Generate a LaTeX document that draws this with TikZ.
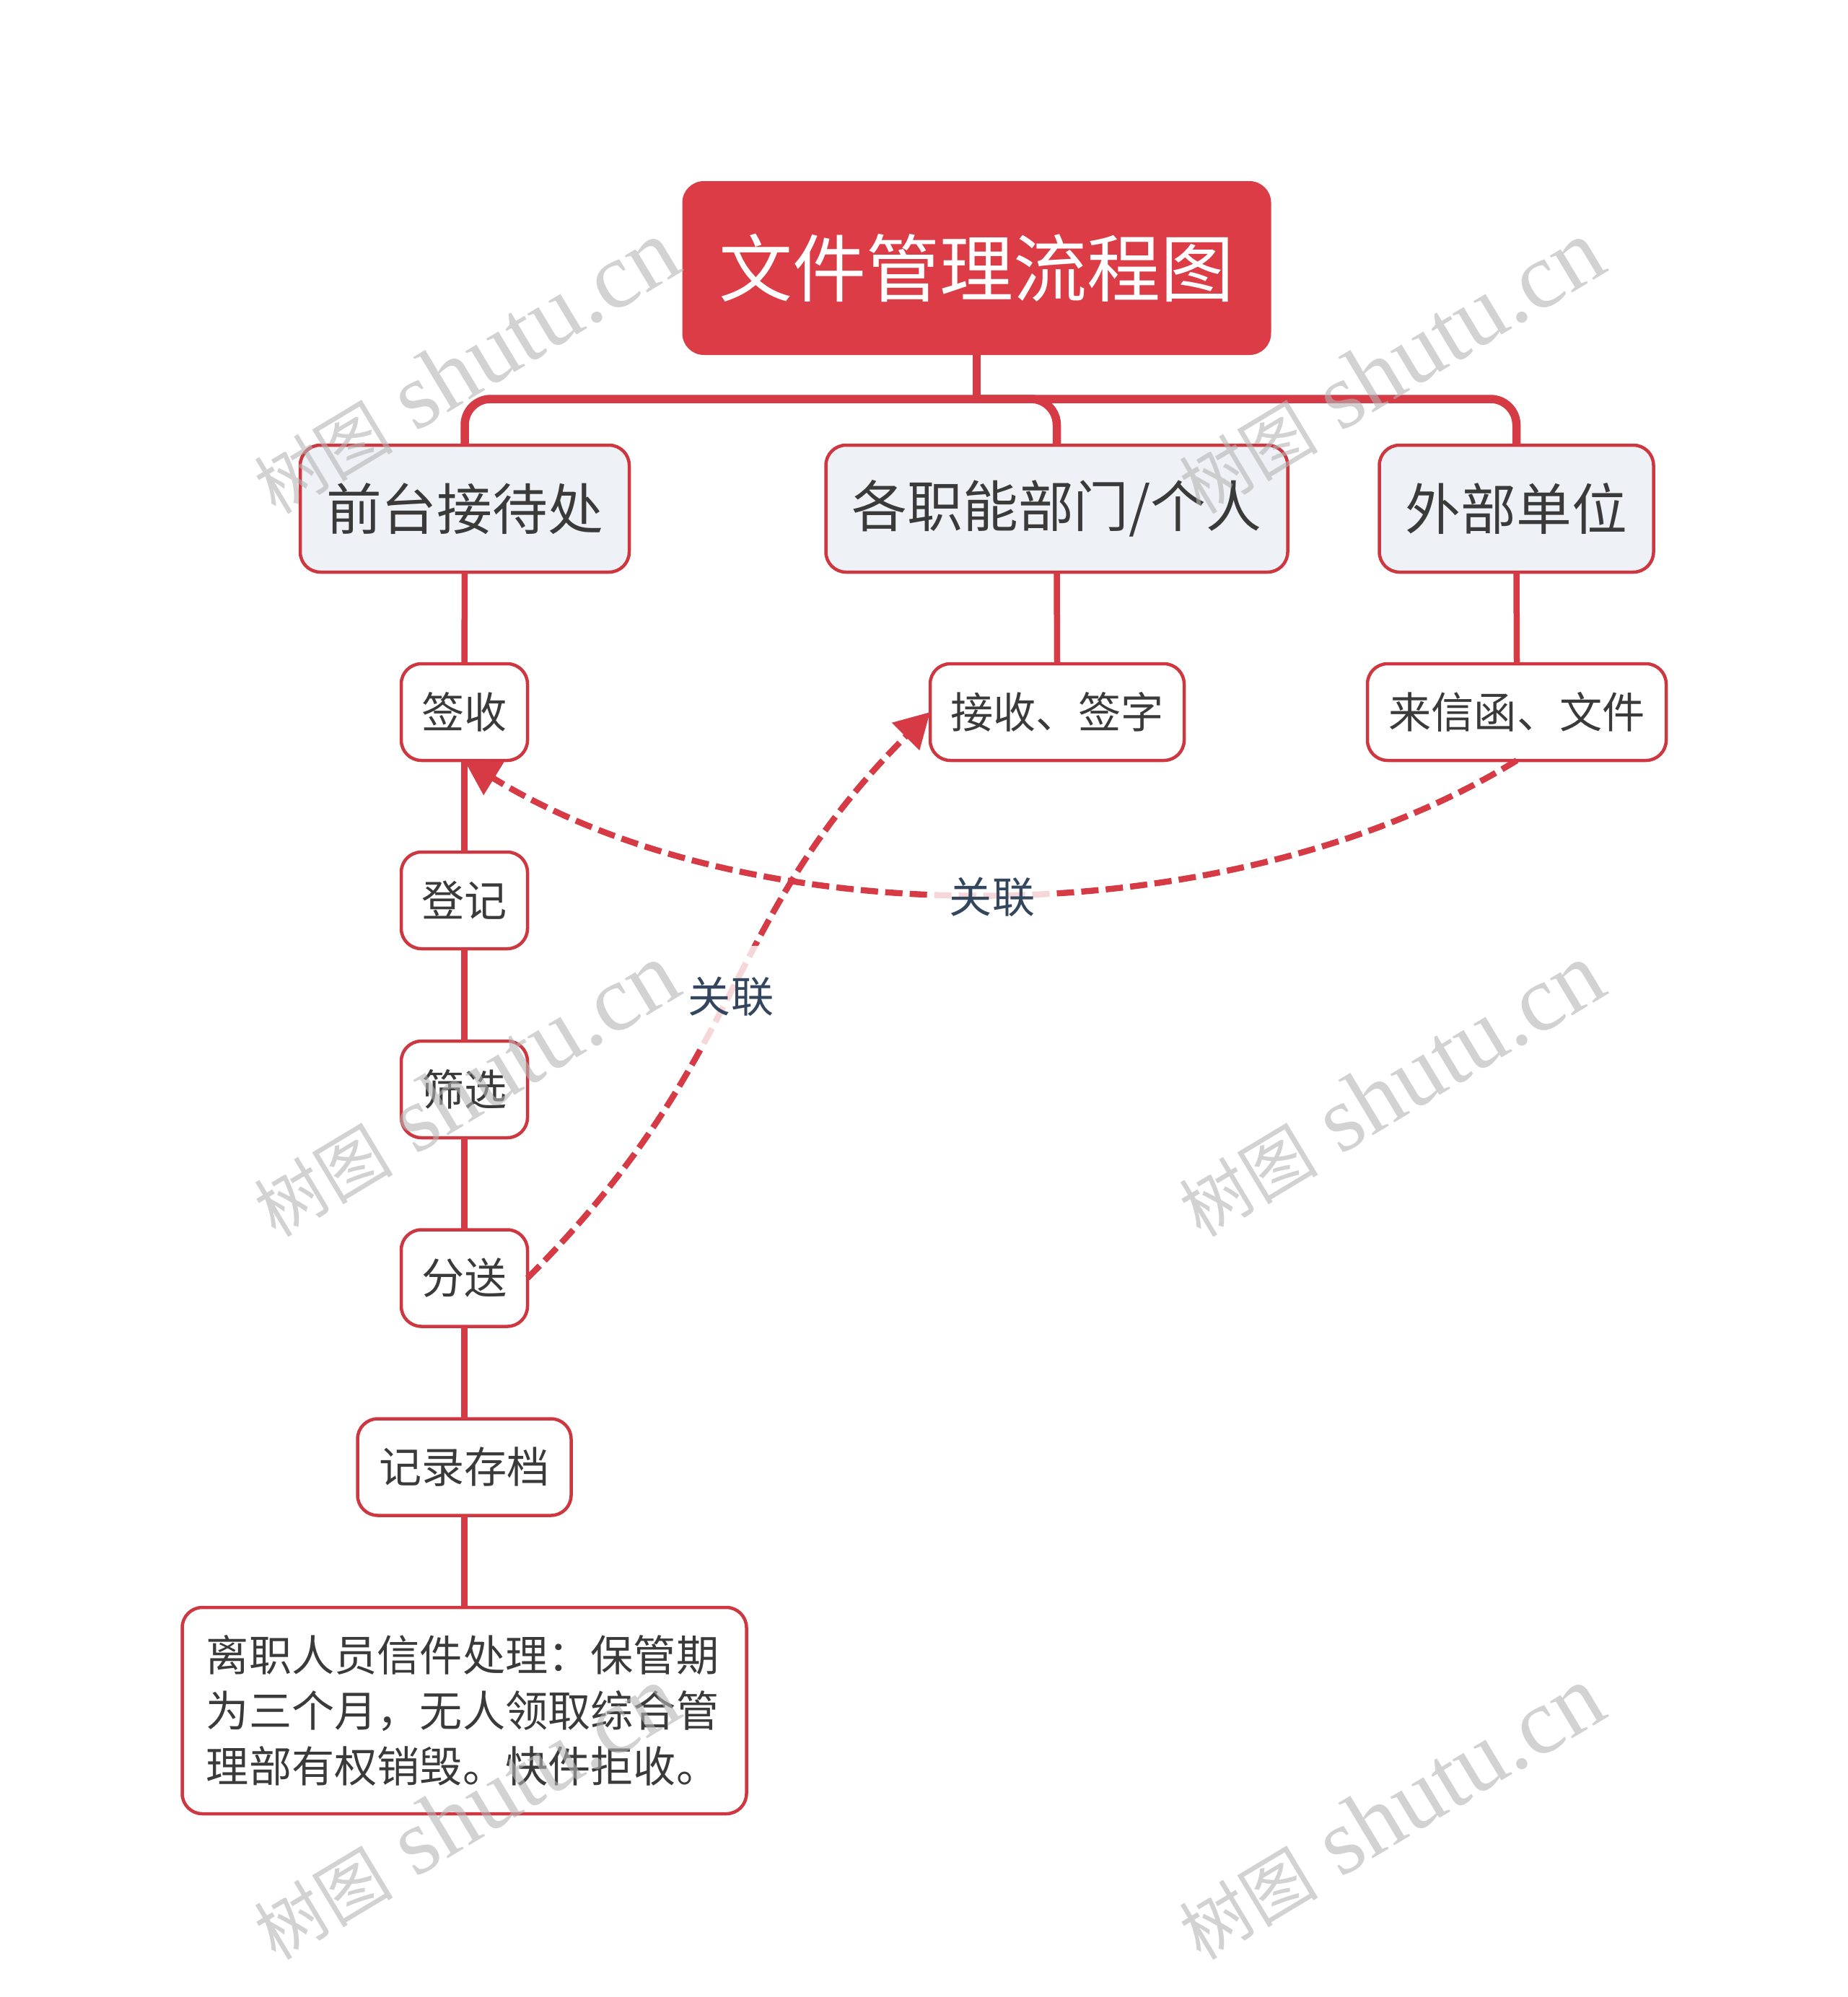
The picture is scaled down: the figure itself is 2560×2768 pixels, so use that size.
\documentclass[tikz,border=0pt]{standalone}
\usepackage{fontspec}
\setmainfont{Noto Sans CJK SC}
\newfontfamily\wmlat{Liberation Serif}
\usetikzlibrary{arrows.meta,calc}
\definecolor{rootred}{HTML}{DC3C46}
\definecolor{linered}{HTML}{D63A45}
\definecolor{edgered}{HTML}{CE3640}
\definecolor{paleblue}{HTML}{EEF1F5}
\definecolor{bodytext}{HTML}{3A3A3A}
\definecolor{relink}{HTML}{34465E}
\definecolor{wmgrey}{HTML}{B4B4B4}
\tikzset{
  boxbase/.style={rectangle,rounded corners=14pt,draw=edgered,line width=2.25pt,inner sep=0pt,outer sep=0pt,text=bodytext,align=center},
  rootbox/.style={rectangle,rounded corners=15pt,fill=rootred,inner sep=0pt,outer sep=0pt,text=white,minimum width=408pt,minimum height=120.5pt,font=\fontsize{51}{60}\selectfont},
  mainbox/.style={boxbase,fill=paleblue,minimum height=88pt,font=\fontsize{38.4}{46}\selectfont},
  leafbox/.style={boxbase,fill=white,minimum height=67pt,font=\fontsize{29.6}{38.5}\selectfont},
  trunk/.style={draw=linered,line width=5.75pt,rounded corners=18pt},
  stem/.style={draw=linered,line width=5.75pt},
  chain/.style={draw=linered,line width=4.25pt},
  relation/.style={draw=linered,line width=4.2pt,dash pattern=on 12pt off 5pt,-{Triangle[length=24pt,width=26pt,fill=linered]}},
  rellabel/.style={rectangle,fill=white,fill opacity=.8,text opacity=1,text=relink,minimum width=81pt,minimum height=70pt,inner sep=0pt,font=\fontsize{29.6}{36}\selectfont},
  wmark/.style={text=wmgrey,opacity=.6,rotate=31,inner sep=0pt}
}
\newcommand{\wmtext}{{\fontsize{48}{60}\selectfont 树图}{\wmlat\fontsize{65}{70}\selectfont\ shutu.cn}}
\begin{document}
\begin{tikzpicture}[x=.5pt,y=-.5pt]
\useasboundingbox[fill=white] (0,0) rectangle (2560,2768);
\coordinate (busy) at (0,553);
% nodes
\node[rootbox] (root) at (1353.5,371.5) {文件管理流程图};
\node[mainbox,minimum width=228pt] (front) at (644,705) {前台接待处};
\node[mainbox,minimum width=320pt] (dept) at (1464.5,705) {各职能部门/个人};
\node[mainbox,minimum width=190pt] (ext) at (2101.5,705) {外部单位};
\node[leafbox,minimum width=87.5pt] (sign) at (643.5,987) {签收};
\node[leafbox,minimum width=87.5pt] (reg) at (643.5,1248) {登记};
\node[leafbox,minimum width=87.5pt] (filt) at (643.5,1510) {筛选};
\node[leafbox,minimum width=87.5pt] (send) at (643.5,1771.5) {分送};
\node[leafbox,minimum width=148pt] (arch) at (643.5,2033.5) {记录存档};
\node[leafbox,minimum width=391pt,minimum height=143pt,align=left] (quit) at (643.5,2371) {离职人员信件处理：保管期\hspace*{2.5pt}\\为三个月，无人领取综合管\\理部有权销毁。快件拒收。};
\node[leafbox,minimum width=176pt] (recv) at (1465,987) {接收、签字};
\node[leafbox,minimum width=207pt] (mail) at (2102,987) {来信函、文件};
% trunk connectors
\draw[stem] (root.south) -- (root.south |- busy);
\draw[trunk] (front.north) |- (ext.north |- busy) -- (ext.north);
\draw[trunk] (root.south |- busy) -| (dept.north);
% chain connectors
\draw[chain] (front.south) -- (sign.north);
\draw[chain] (sign.south) -- (reg.north);
\draw[chain] (reg.south) -- (filt.north);
\draw[chain] (filt.south) -- (send.north);
\draw[chain] (send.south) -- (arch.north);
\draw[chain] (arch.south) -- (quit.north);
\draw[chain] (dept.south) -- (recv.north);
\draw[chain] (ext.south) -- (mail.north);
% relations
\draw[relation] (mail.south) .. controls +(-400,246) and +(400,246) .. (sign.south);
\node[rellabel] (lab1) at (1375,1243) {关联};
\draw[relation] (send.east) .. controls +(307,-307) and +(-292,292) .. (recv.west);
\node[rellabel] (lab2) at (1013,1381) {关联};
% watermarks
\foreach \wx/\wy [count=\wi] in {645/509,1927/509,645/1511,1927/1511,645/2513,1927/2513}
  \node[wmark] (wm\wi) at (\wx,\wy) {\wmtext};
\end{tikzpicture}
\end{document}
